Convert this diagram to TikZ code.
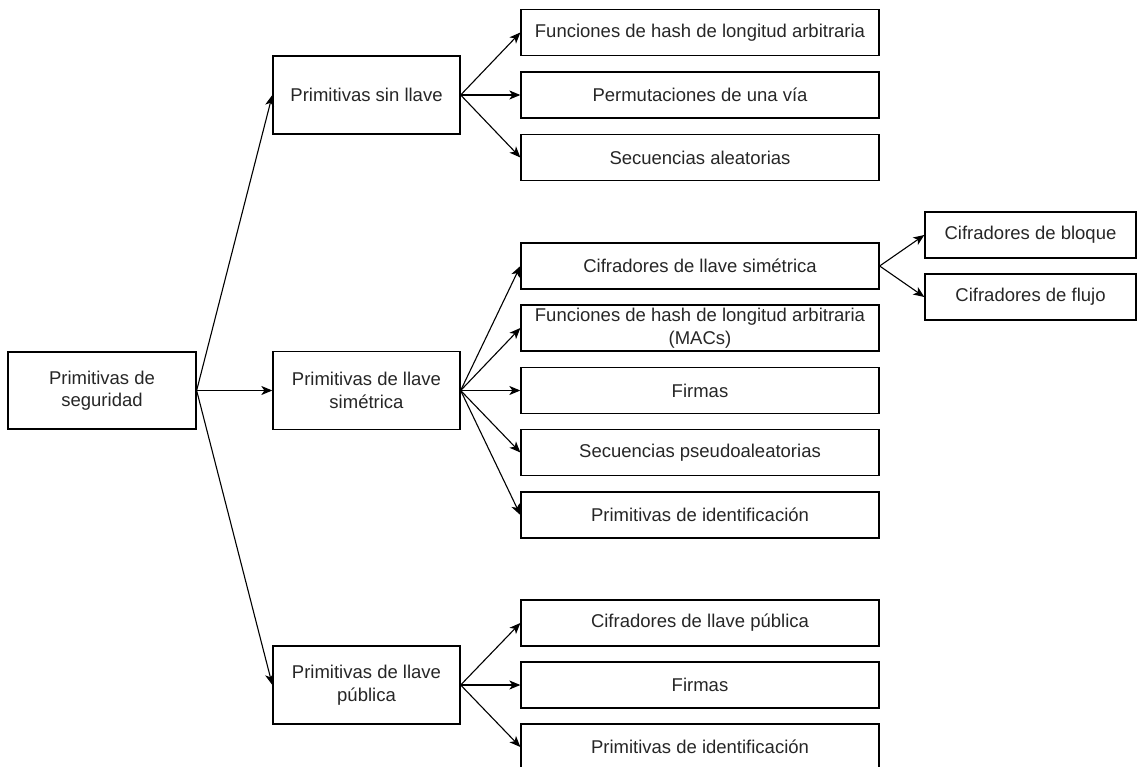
\documentclass[tikz,border=0pt]{standalone}
\usepackage{fontspec}
\setmainfont{Liberation Sans}
\usetikzlibrary{arrows.meta}
\begin{document}
\begin{tikzpicture}[x=1pt,y=-1pt,
  box/.style={draw=black, line width=1.3pt, rectangle, align=center,
    text=black!85, font=\fontsize{18.5}{22.5}\selectfont, inner sep=0pt},
  rootbox/.style={box, minimum width=188pt, minimum height=77pt},
  midbox/.style={box, minimum width=187pt, minimum height=78pt},
  leafbox/.style={box, minimum width=358pt, minimum height=46pt},
  subbox/.style={box, minimum width=211pt, minimum height=46pt},
  link/.style={draw=black, line width=1.1pt,
    -{Stealth[length=11pt,width=9pt,inset=3pt]}}]
\useasboundingbox (0,0) rectangle (1137,767);

% root
\node[rootbox] (root) at (102,390.5) {Primitivas de\\seguridad};

% first level
\node[midbox] (sin) at (366.5,95) {Primitivas sin llave};
\node[midbox] (sim) at (366.5,390.5) {Primitivas de llave\\simétrica};
\node[midbox] (pub) at (366.5,685) {Primitivas de llave\\pública};

% keyless primitives
\node[leafbox] (s1) at (700,32.5) {Funciones de hash de longitud arbitraria};
\node[leafbox] (s2) at (700,95) {Permutaciones de una vía};
\node[leafbox] (s3) at (700,157.5) {Secuencias aleatorias};

% symmetric-key primitives
\node[leafbox] (k1) at (700,266) {Cifradores de llave simétrica};
\node[leafbox] (k2) at (700,328) {Funciones de hash de longitud arbitraria\\(MACs)};
\node[leafbox] (k3) at (700,390.5) {Firmas};
\node[leafbox] (k4) at (700,452.5) {Secuencias pseudoaleatorias};
\node[leafbox] (k5) at (700,515) {Primitivas de identificación};

% symmetric ciphers
\node[subbox] (c1) at (1030.5,235) {Cifradores de bloque};
\node[subbox] (c2) at (1030.5,297) {Cifradores de flujo};

% public-key primitives
\node[leafbox] (p1) at (700,623) {Cifradores de llave pública};
\node[leafbox] (p2) at (700,685) {Firmas};
\node[leafbox] (p3) at (700,747) {Primitivas de identificación};

% connectors
\foreach \t in {sin,sim,pub} \draw[link] (root.east) -- (\t.west);
\foreach \t in {s1,s2,s3} \draw[link] (sin.east) -- (\t.west);
\foreach \t in {k1,k2,k3,k4,k5} \draw[link] (sim.east) -- (\t.west);
\foreach \t in {p1,p2,p3} \draw[link] (pub.east) -- (\t.west);
\foreach \t in {c1,c2} \draw[link] (k1.east) -- (\t.west);
\end{tikzpicture}
\end{document}
